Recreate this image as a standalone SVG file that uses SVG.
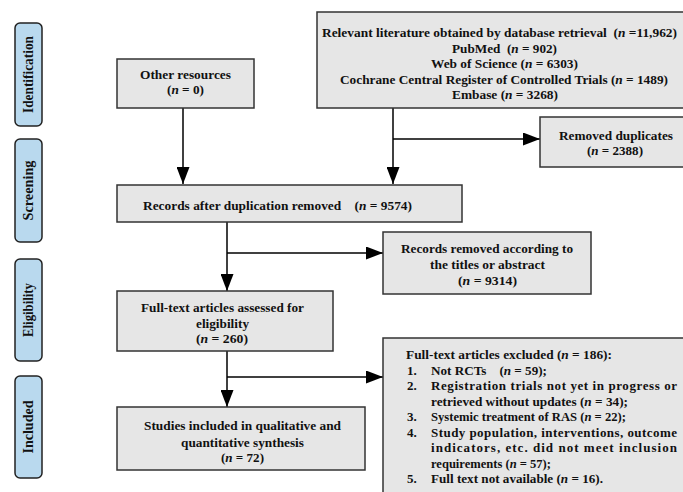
<svg xmlns="http://www.w3.org/2000/svg" width="683" height="492" viewBox="0 0 683 492">
<style>
.box{fill:#e6e6e6;stroke:#333;stroke-width:1.5}
.pill{fill:#b9d9ee;stroke:#222;stroke-width:1.5}
text{font-family:"Liberation Serif","Times New Roman",serif;font-weight:bold;font-size:13.5px;fill:#111}
.m{text-anchor:middle}
.s{font-size:13px}
.v{font-size:14.5px}
.c{stroke:#000;stroke-width:1.5;fill:none;marker-end:url(#ah)}
</style>
<defs>
<marker id="ah" markerUnits="userSpaceOnUse" markerWidth="17" markerHeight="13" refX="17" refY="6.5" orient="auto">
<path d="M0,0 L17,6.5 L0,13 z" fill="#000"/>
</marker>
</defs>
<rect width="683" height="492" fill="#fff"/>

<g id="stage-identification">
<rect class="pill" x="15" y="23" width="27" height="103" rx="5"/>
<text class="m v" transform="translate(33,74.5) rotate(-90)" textLength="77" lengthAdjust="spacingAndGlyphs">Identification</text>
</g>
<g id="stage-screening">
<rect class="pill" x="15" y="139" width="27" height="103" rx="5"/>
<text class="m v" transform="translate(33,190.5) rotate(-90)" textLength="60" lengthAdjust="spacingAndGlyphs">Screening</text>
</g>
<g id="stage-eligibility">
<rect class="pill" x="15" y="259" width="27" height="102" rx="5"/>
<text class="m v" transform="translate(33,310) rotate(-90)" textLength="54" lengthAdjust="spacingAndGlyphs">Eligibility</text>
</g>
<g id="stage-included">
<rect class="pill" x="15" y="376" width="27" height="102" rx="5"/>
<text class="m v" transform="translate(33,427) rotate(-90)" textLength="53" lengthAdjust="spacingAndGlyphs">Included</text>
</g>

<g id="connectors">
<path class="c" d="M183,108 V184"/>
<path class="c" d="M393,108 V184"/>
<path class="c" d="M393,139 H540"/>
<path class="c" d="M227,222 V291"/>
<path class="c" d="M227,253 H383"/>
<path class="c" d="M227,351 V407"/>
<path class="c" d="M227,377 H383"/>
</g>

<g id="other-resources">
<rect class="box" x="117" y="59" width="137" height="49"/>
<text class="m" x="185.5" y="79" textLength="91" lengthAdjust="spacingAndGlyphs">Other resources</text>
<text class="m" x="185.5" y="94" textLength="37" lengthAdjust="spacingAndGlyphs">(<tspan font-style="italic">n</tspan> = 0)</text>
</g>

<g id="database-retrieval">
<rect class="box" x="317" y="12" width="380" height="96"/>
<text class="m" x="499.5" y="37" textLength="355" lengthAdjust="spacingAndGlyphs">Relevant literature obtained by database retrieval&#160;&#160;(<tspan font-style="italic">n</tspan> =11,962)</text>
<text class="m" x="504.5" y="52.5" textLength="105" lengthAdjust="spacingAndGlyphs">PubMed&#160; (<tspan font-style="italic">n</tspan> = 902)</text>
<text class="m" x="504.5" y="68" textLength="147" lengthAdjust="spacingAndGlyphs">Web of Science (<tspan font-style="italic">n</tspan> = 6303)</text>
<text class="m" x="504" y="83.5" textLength="328" lengthAdjust="spacingAndGlyphs">Cochrane Central Register of Controlled Trials (<tspan font-style="italic">n</tspan> = 1489)</text>
<text class="m" x="505" y="99" textLength="106" lengthAdjust="spacingAndGlyphs">Embase (<tspan font-style="italic">n</tspan> = 3268)</text>
</g>

<g id="removed-duplicates">
<rect class="box" x="540" y="117" width="155" height="50"/>
<text class="m" x="616" y="140" textLength="114" lengthAdjust="spacingAndGlyphs">Removed duplicates</text>
<text class="m" x="615" y="154.5" textLength="56" lengthAdjust="spacingAndGlyphs">(<tspan font-style="italic">n</tspan> = 2388)</text>
</g>

<g id="records-after-dedup">
<rect class="box" x="117" y="185" width="345" height="37"/>
<text x="143" y="210" textLength="269" lengthAdjust="spacingAndGlyphs">Records after duplication removed&#160;&#160;&#160; (<tspan font-style="italic">n</tspan> = 9574)</text>
</g>

<g id="records-removed">
<rect class="box" x="383" y="232" width="208" height="62"/>
<text class="m" x="487" y="253" textLength="172" lengthAdjust="spacingAndGlyphs">Records removed according to</text>
<text class="m" x="487.5" y="269" textLength="115" lengthAdjust="spacingAndGlyphs">the titles or abstract</text>
<text class="m" x="487.5" y="285" textLength="59" lengthAdjust="spacingAndGlyphs">(<tspan font-style="italic">n</tspan> = 9314)</text>
</g>

<g id="full-text-assessed">
<rect class="box" x="117" y="291" width="216" height="60"/>
<text class="m" x="222.5" y="312" textLength="163" lengthAdjust="spacingAndGlyphs">Full-text articles assessed for</text>
<text class="m" x="222.5" y="328" textLength="53" lengthAdjust="spacingAndGlyphs">eligibility</text>
<text class="m" x="222" y="343" textLength="52" lengthAdjust="spacingAndGlyphs">(<tspan font-style="italic">n</tspan> = 260)</text>
</g>

<g id="studies-included">
<rect class="box" x="117" y="407" width="248" height="63"/>
<text class="m" x="242.5" y="430" textLength="197" lengthAdjust="spacingAndGlyphs">Studies included in qualitative and</text>
<text class="m" x="242.5" y="446.5" textLength="123" lengthAdjust="spacingAndGlyphs">quantitative synthesis</text>
<text class="m" x="242.5" y="462" textLength="43" lengthAdjust="spacingAndGlyphs">(<tspan font-style="italic">n</tspan> = 72)</text>
</g>

<g id="full-text-excluded">
<rect class="box" x="383" y="338" width="320" height="170"/>
<text x="406" y="359" textLength="206" lengthAdjust="spacingAndGlyphs">Full-text articles excluded (<tspan font-style="italic">n</tspan> = 186):</text>
<text class="s" x="407" y="374.5">1.</text>
<text class="s" x="431" y="374.5" textLength="116" lengthAdjust="spacingAndGlyphs">Not RCTs&#160;&#160;&#160; (<tspan font-style="italic">n</tspan> = 59);</text>
<text class="s" x="407" y="390">2.</text>
<text class="s" x="431" y="390" textLength="246" lengthAdjust="spacing">Registration trials not yet in progress or</text>
<text class="s" x="431" y="405.5" textLength="197" lengthAdjust="spacingAndGlyphs">retrieved without updates (<tspan font-style="italic">n</tspan> = 34);</text>
<text class="s" x="407" y="421">3.</text>
<text class="s" x="431" y="421" textLength="195" lengthAdjust="spacingAndGlyphs">Systemic treatment of RAS (<tspan font-style="italic">n</tspan> = 22);</text>
<text class="s" x="407" y="436.5">4.</text>
<text class="s" x="431" y="436.5" textLength="246" lengthAdjust="spacing">Study population, interventions, outcome</text>
<text class="s" x="431" y="452" textLength="246" lengthAdjust="spacing">indicators, etc. did not meet inclusion</text>
<text class="s" x="431" y="467.5" textLength="120" lengthAdjust="spacingAndGlyphs">requirements (<tspan font-style="italic">n</tspan> = 57);</text>
<text class="s" x="407" y="483">5.</text>
<text class="s" x="431" y="483" textLength="172" lengthAdjust="spacingAndGlyphs">Full text not available (<tspan font-style="italic">n</tspan> = 16).</text>
</g>
</svg>
